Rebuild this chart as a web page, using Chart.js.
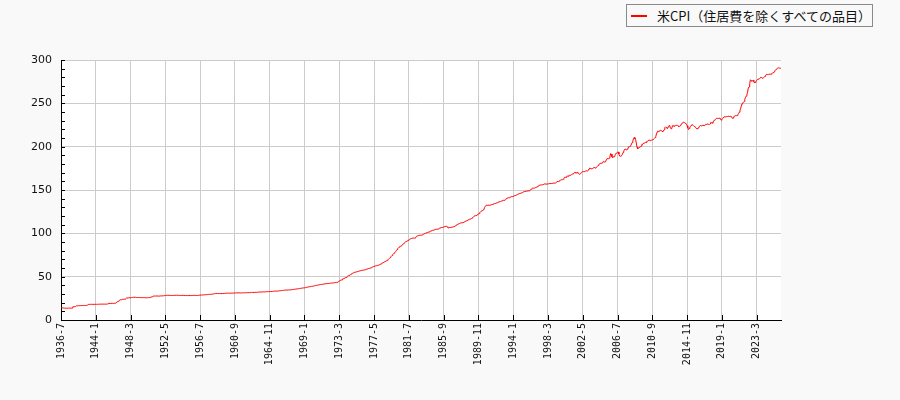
<!DOCTYPE html>
<html lang="ja">
<head>
<meta charset="utf-8">
<script src="https://cdn.jsdelivr.net/npm/chart.js@4.4.1/dist/chart.umd.min.js"></script>
<style>
  html, body { margin: 0; padding: 0; background: #f9f9f9; }
  #wrap { position: relative; width: 900px; height: 400px; }
  #legend {
    position: absolute; left: 626px; top: 4px; width: 247px; height: 23px;
    box-sizing: border-box; border: 1px solid #8a8a8a; background: #f9f9f9;
    font-family: "Noto Sans CJK JP", sans-serif; font-size: 13px; color: #111;
  }
  #legend .swatch { position: absolute; left: 4px; top: 10px; width: 16px; height: 2px; background: #ff0000; }
  #legend .text { position: absolute; left: 30px; top: 0; line-height: 21px; white-space: nowrap; }
</style>
</head>
<body>
<div id="wrap">
  <canvas id="cpiChart" width="900" height="400"></canvas>
  <div id="legend"><span class="swatch"></span><span class="text">米CPI（住居費を除くすべての品目）</span></div>
</div>
<script>
// series name
const seriesName = '米CPI（住居費を除くすべての品目）';

// early observations are quarterly (1936-7 .. 1941-7), monthly after that
const quarterlyStart = [1936, 7];
const quarterlyCount = 21;
const lastMonth = [2026, 2];

// index values
const cpiValues = [
  // 1936-7 .. 1941-7 (quarterly)
  14.2,14.1,14.0,13.9,13.8,13.7,13.7,13.6,13.6,13.6,13.6,13.7,13.7,13.6,13.7,13.7,13.8,15.3,15.4,15.4,15.5,
  // 1941-8 .. 1941-12
  15.6,16.3,16.4,16.5,16.5,
  16.5,16.6,16.6,16.6,16.6,16.7,16.7,16.7,16.8,16.8,16.8,16.9, // 1942
  17.2,17.9,18.0,18.0,18.1,18.1,18.1,18.1,18.0,18.0,18.1,18.1, // 1943
  18.1,18.1,18.1,18.2,18.2,18.2,18.2,18.3,18.3,18.3,18.3,18.3, // 1944
  18.3,18.3,18.3,18.3,18.4,18.5,18.8,19.2,19.2,19.1,19.2,19.2, // 1945
  19.2,19.1,19.2,19.3,19.4,19.6,20.4,21.0,21.4,21.9,22.8,23.3, // 1946
  23.4,23.3,23.9,23.9,23.8,24.0,24.1,24.4,25.2,25.3,25.3,25.6, // 1947
  25.8,25.6,25.5,25.8,25.9,26.0,26.2,26.3,26.3,26.2,26.0,25.9, // 1948
  26.0,25.9,25.9,25.9,25.9,25.8,25.7,25.8,25.9,25.8,25.8,25.7, // 1949
  25.7,25.6,25.7,25.7,25.8,25.9,26.1,26.4,26.6,26.8,27.2,27.6, // 1950
  27.6,27.7,27.7,27.7,27.7,27.7,27.6,27.6,27.7,27.8,27.8,27.9, // 1951
  27.9,27.8,27.8,28.3,28.3,28.4,28.5,28.5,28.5,28.5,28.4,28.4, // 1952
  28.3,28.3,28.3,28.3,28.4,28.4,28.5,28.5,28.5,28.5,28.4,28.4, // 1953
  28.4,28.4,28.3,28.3,28.4,28.4,28.4,28.3,28.3,28.2,28.2,28.2, // 1954
  28.2,28.2,28.2,28.2,28.2,28.2,28.3,28.3,28.4,28.4,28.4,28.3, // 1955
  28.3,28.3,28.3,28.4,28.5,28.6,28.7,28.7,28.8,28.9,28.9,29.0, // 1956
  29.0,29.1,29.2,29.3,29.3,29.4,29.5,29.6,29.6,29.6,29.7,29.7, // 1957
  29.9,30.0,30.3,30.5,30.6,30.6,30.6,30.6,30.5,30.5,30.5,30.5, // 1958
  30.5,30.5,30.5,30.6,30.6,30.7,30.8,30.8,30.9,31.0,31.0,31.0, // 1959
  30.9,30.9,30.9,31.0,31.0,31.1,31.1,31.1,31.1,31.2,31.3,31.3, // 1960
  31.3,31.3,31.3,31.3,31.2,31.2,31.3,31.3,31.4,31.4,31.4,31.4, // 1961
  31.4,31.5,31.6,31.6,31.6,31.6,31.6,31.7,31.9,31.9,31.8,31.8, // 1962
  31.8,31.9,31.9,31.9,31.9,32.1,32.3,32.3,32.2,32.3,32.3,32.4, // 1963
  32.5,32.4,32.4,32.5,32.5,32.6,32.8,32.7,32.7,32.8,32.9,32.9, // 1964
  32.9,32.9,33.0,33.1,33.2,33.4,33.4,33.3,33.3,33.4,33.5,33.6, // 1965
  33.6,33.8,33.9,34.0,34.0,34.1,34.2,34.4,34.5,34.6,34.6,34.6, // 1966
  34.6,34.6,34.7,34.7,34.8,34.9,35.1,35.2,35.3,35.4,35.5,35.6, // 1967
  35.7,35.9,36.0,36.1,36.2,36.3,36.5,36.6,36.7,36.9,37.0,37.1, // 1968
  37.1,37.3,37.6,37.8,37.9,38.1,38.2,38.4,38.5,38.6,38.8,38.9, // 1969
  39.0,39.2,39.4,39.6,39.8,40.0,40.1,40.2,40.4,40.6,40.8,41.0, // 1970
  41.0,41.1,41.2,41.4,41.6,41.7,41.8,41.9,41.9,42.0,42.1,42.2, // 1971
  42.2,42.5,42.5,42.6,42.7,42.8,42.9,43.0,43.2,43.3,43.4,43.5, // 1972
  43.9,44.4,45.0,45.5,45.9,46.2,46.3,47.5,47.8,48.1,48.5,48.9, // 1973
  49.0,49.8,50.5,50.9,51.4,51.9,52.4,52.9,53.4,53.8,54.3,54.7, // 1974
  55.0,55.2,55.4,55.6,55.8,56.1,56.4,56.6,56.8,57.0,57.2,57.4, // 1975
  57.5,57.6,57.7,57.9,58.2,58.5,58.8,59.1,59.4,59.6,59.8,60.0, // 1976
  60.3,60.8,61.2,61.6,61.9,62.2,62.4,62.6,62.8,63.0,63.2,63.4, // 1977
  63.8,64.2,64.6,65.2,65.7,66.3,66.7,67.1,67.6,68.0,68.4,68.8, // 1978
  69.4,70.2,71.0,72.0,72.9,73.7,74.6,75.5,76.4,77.2,78.0,78.8, // 1979
  80.0,81.3,82.5,83.3,84.0,84.7,85.0,85.5,86.2,87.0,87.8,88.5, // 1980
  89.2,90.0,90.5,91.0,91.4,91.8,92.5,93.0,93.6,93.9,94.1,94.3, // 1981
  94.5,94.6,94.5,94.7,95.4,96.5,97.0,97.2,97.4,97.7,97.8,97.7, // 1982
  97.8,98.0,98.2,99.0,99.5,99.8,100.1,100.4,100.8,101.1,101.3,101.5, // 1983
  101.9,102.4,102.7,103.1,103.4,103.6,103.9,104.2,104.5,104.7,104.8,104.8, // 1984
  104.9,105.3,105.8,106.2,106.5,106.7,106.8,106.9,107.2,107.5,107.9,108.2, // 1985
  108.2,107.6,106.8,106.3,106.6,106.9,106.7,106.9,107.3,107.4,107.5,107.6, // 1986
  108.3,108.8,109.3,109.9,110.3,110.7,110.9,111.4,111.8,112.0,112.3,112.3, // 1987
  112.5,112.8,113.3,113.8,114.2,114.5,114.9,115.3,115.8,116.2,116.4,116.6, // 1988
  117.1,117.6,118.3,119.2,119.9,120.2,120.4,120.6,121.1,121.8,122.3,122.7, // 1989
  124.0,124.8,125.5,126.0,126.4,127.0,127.8,129.8,131.4,132.3,132.5,132.3, // 1990
  132.6,132.4,132.3,132.5,132.9,133.2,133.3,133.6,134.0,134.2,134.5,134.6, // 1991
  134.9,135.3,135.9,136.1,136.3,136.6,136.8,137.1,137.5,137.9,138.1,138.0, // 1992
  138.6,139.2,139.8,140.4,140.8,141.0,141.1,141.4,141.7,142.3,142.5,142.4, // 1993
  142.7,143.1,143.5,143.7,143.9,144.3,144.7,145.3,145.6,145.8,146.1,146.1, // 1994
  146.5,147.0,147.4,147.9,148.2,148.4,148.4,148.6,148.8,149.1,149.0,149.0, // 1995
  149.6,150.1,150.9,151.6,152.1,152.1,152.2,152.3,152.7,153.2,153.5,153.6, // 1996
  154.6,155.2,155.5,155.7,155.8,155.9,156.0,156.3,156.7,157.0,157.0,156.8, // 1997
  156.8,156.9,157.0,157.2,157.4,157.4,157.4,157.5,157.6,157.9,158.0,157.9, // 1998
  158.0,158.1,158.6,159.8,159.8,159.7,160.2,160.7,161.5,161.8,161.9,161.9, // 1999
  162.3,163.3,164.6,164.6,164.6,165.7,166.0,165.8,166.7,167.0,167.1,167.0, // 2000
  167.8,168.3,168.5,169.2,170.1,170.3,169.6,169.6,170.3,169.5,168.9,168.2, // 2001
  168.5,169.0,170.0,171.0,171.2,171.2,171.2,171.5,171.9,172.1,172.1,171.8, // 2002
  172.8,174.3,175.4,174.9,174.5,174.7,174.8,175.4,176.0,175.9,175.4,175.3, // 2003
  176.3,177.2,178.3,178.9,180.2,180.8,180.6,180.8,181.3,182.4,182.9,182.2, // 2004
  182.6,183.5,184.8,186.3,186.0,185.9,186.8,188.0,192.0,191.5,188.2,187.0, // 2005
  188.4,188.4,189.3,191.2,192.5,192.8,193.5,193.9,191.4,189.2,188.8,189.4, // 2006
  189.9,191.2,193.3,194.9,196.7,197.2,196.8,196.3,197.0,197.8,200.0,199.9, // 2007
  200.6,201.1,203.1,204.6,206.6,209.2,210.6,208.8,208.4,204.2,199.4,197.5, // 2008
  198.4,199.3,199.6,200.1,200.6,202.8,202.6,203.8,204.0,204.3,204.9,204.7, // 2009
  206.0,206.1,207.2,207.6,207.4,207.0,207.1,207.5,207.7,208.4,208.8,209.6, // 2010
  210.5,211.8,214.7,216.8,218.2,217.6,217.9,218.5,218.9,218.4,218.0,217.2, // 2011
  218.2,219.6,222.0,222.9,222.1,221.4,220.9,222.9,224.4,224.0,221.6,220.6, // 2012
  221.3,224.0,224.3,223.5,223.6,224.3,224.4,224.6,224.8,224.0,223.2,223.3, // 2013
  224.2,224.9,226.3,227.2,227.8,228.2,227.9,227.1,227.0,226.0,224.1,221.8, // 2014
  219.8,221.0,222.6,223.2,224.6,225.4,225.0,224.3,223.5,223.1,222.4,221.3, // 2015
  220.8,220.3,221.6,222.7,223.6,224.6,224.0,223.9,224.4,224.9,224.3,224.3, // 2016
  225.3,225.9,225.7,226.1,226.0,225.8,225.5,226.4,228.0,227.7,227.6,227.1, // 2017
  229.5,230.4,230.8,231.7,232.6,232.8,232.7,232.6,232.8,233.1,231.9,230.6, // 2018
  231.2,232.4,233.6,234.3,234.6,234.4,234.7,234.6,234.8,235.2,235.0,234.8, // 2019
  235.0,235.2,234.4,232.6,233.0,234.2,235.3,235.7,235.9,235.8,236.0,236.8, // 2020
  238.2,239.8,241.6,244.3,246.8,249.5,250.7,251.2,252.0,254.8,256.9,258.3, // 2021
  260.4,262.9,267.8,268.9,272.7,277.2,276.1,275.6,276.0,276.6,275.1,273.4, // 2022
  274.3,275.6,276.4,277.5,277.8,278.2,278.6,279.4,280.1,279.8,279.2,278.9, // 2023
  279.8,280.6,281.2,282.6,283.4,283.2,283.3,283.4,283.6,283.8,283.6,283.7, // 2024
  284.4,285.2,285.1,286.3,287.4,288.3,289.3,289.8,290.5,290.9,291.0,290.6, // 2025
  290.4,290.6 // 2026
];

// axis settings
const yMin = 0;
const yMax = 300;
const yStep = 50;
const yMinorStep = 10;
const labelEvery = 50;

// build the period labels ("YYYY-M")
const periodLabels = [];
let m = quarterlyStart[0] * 12 + quarterlyStart[1] - 1;
for (let q = 0; q < quarterlyCount; q++, m += 3) {
  periodLabels.push(Math.floor(m / 12) + '-' + (m % 12 + 1));
}
m -= 2;
const endM = lastMonth[0] * 12 + lastMonth[1] - 1;
for (; m <= endM; m++) {
  periodLabels.push(Math.floor(m / 12) + '-' + (m % 12 + 1));
}

// white plot area + inward tick marks
const plotDecor = {
  id: 'plotDecor',
  beforeDraw(chart) {
    const { ctx, chartArea: a } = chart;
    ctx.save();
    ctx.fillStyle = '#ffffff';
    ctx.fillRect(a.left, a.top, a.right - a.left, a.bottom - a.top);
    ctx.restore();
  },
  afterDraw(chart) {
    const { ctx, chartArea: a, scales: { x, y } } = chart;
    ctx.save();
    ctx.strokeStyle = '#000000';
    ctx.lineWidth = 1;
    ctx.beginPath();
    for (let v = yMin; v <= yMax; v += yMinorStep) {
      const py = Math.round(y.getPixelForValue(v)) + 0.5;
      ctx.moveTo(a.left, py);
      ctx.lineTo(a.left + 4, py);
    }
    for (let i = 0; i < periodLabels.length; i += labelEvery) {
      const px = Math.round(x.getPixelForValue(i)) + 0.5;
      ctx.moveTo(px, a.bottom);
      ctx.lineTo(px, a.bottom - 5);
    }
    ctx.stroke();
    ctx.restore();
  }
};

const ctx = document.getElementById('cpiChart').getContext('2d');
const chart = new Chart(ctx, {
  type: 'line',
  data: {
    labels: periodLabels,
    datasets: [{
      label: seriesName,
      data: cpiValues,
      borderColor: '#ff0000',
      borderWidth: 1,
      pointRadius: 0,
      tension: 0,
      fill: false
    }]
  },
  options: {
    responsive: false,
    animation: false,
    devicePixelRatio: 1,
    layout: {
      padding: { top: 60, right: 119, bottom: 0, left: 0 }
    },
    plugins: {
      legend: { display: false },
      tooltip: { enabled: false }
    },
    scales: {
      x: {
        type: 'category',
        offset: false,
        afterFit: function(scale) { scale.height = 80; },
        grid: { color: '#cccccc', lineWidth: 1, drawTicks: false },
        border: { color: '#000000', width: 1 },
        ticks: {
          autoSkip: false,
          minRotation: 90,
          maxRotation: 90,
          padding: 3,
          color: '#111111',
          font: { family: 'DejaVu Sans Mono', size: 10 },
          callback: function(value, index) {
            return index % labelEvery === 0 ? periodLabels[index] : null;
          }
        }
      },
      y: {
        min: yMin,
        max: yMax,
        afterFit: function(scale) { scale.width = 61; },
        grid: { color: '#cccccc', lineWidth: 1, drawTicks: false },
        border: { color: '#000000', width: 1 },
        ticks: {
          stepSize: yStep,
          padding: 9,
          color: '#111111',
          font: { family: 'DejaVu Sans', size: 11 }
        }
      }
    }
  },
  plugins: [plotDecor]
});
</script>
</body>
</html>
